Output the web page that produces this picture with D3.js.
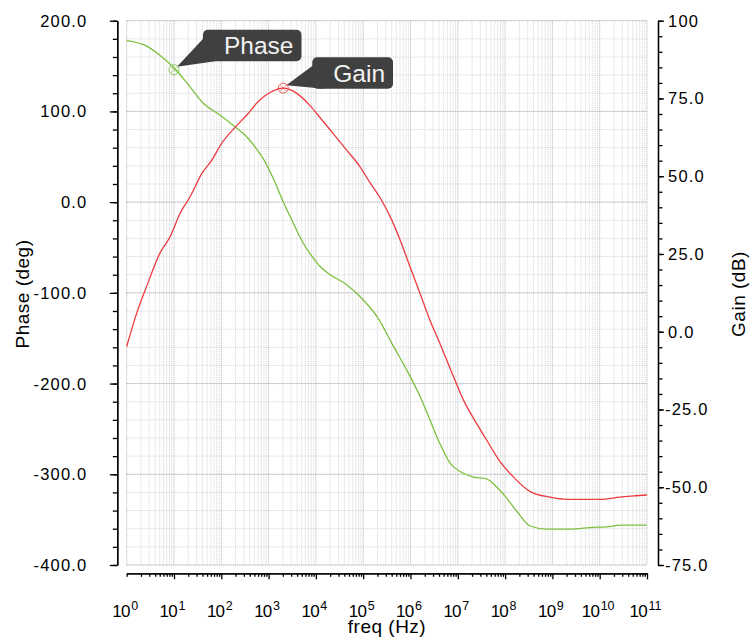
<!DOCTYPE html>
<html>
<head>
<meta charset="utf-8">
<script src="https://cdn.jsdelivr.net/npm/d3@7"></script>
<style>
  body { margin: 0; background: #fff; }
  text { font-family: "Liberation Sans", Arial, sans-serif; }
</style>
</head>
<body>
<script>
"use strict";

// log10 of frequency (Hz) of each sampled point
let phaseExp = [0, 0.42, 0.70, 1.04, 1.34, 1.62, 1.97, 2.29, 2.50, 2.71, 2.92, 3.10, 3.31, 3.52, 3.73, 3.95, 4.09, 4.30, 4.65, 4.93,
  5.29, 5.64, 5.92, 6.20, 6.41, 6.62, 6.84, 7.05, 7.33, 7.61, 7.82, 8.03, 8.28, 8.53, 8.88, 9.37, 9.87, 10.15, 10.43, 11];
let phaseDeg = [178, 172, 162, 146, 127, 109, 96, 83, 74, 61, 45, 26, 0.5, -23, -45, -62, -71, -80, -91, -104,
  -126, -159, -185, -214, -240, -266, -288, -297, -303, -305, -314, -326, -343, -357, -360.5, -360.5, -358.5, -358, -356, -356];

let gainExp = [0, 0.21, 0.42, 0.70, 0.92, 1.13, 1.34, 1.59, 1.80, 2.01, 2.29, 2.54, 2.78, 3.03, 3.31, 3.59, 3.88, 4.09, 4.37, 4.65,
  4.93, 5.14, 5.36, 5.57, 5.78, 5.99, 6.20, 6.41, 6.62, 6.91, 7.12, 7.33, 7.61, 7.89, 8.17, 8.53, 8.95, 9.30, 10.01, 10.43, 10.71, 11];
let gainDb = [-4.8, 5.9, 14.5, 25.2, 30.6, 38.1, 43.4, 50.9, 55.2, 60.6, 65.7, 69.7, 74.0, 76.9, 78.3, 76.7, 72.6, 68.8, 63.6, 58.4,
  53.1, 48.0, 43.0, 37.0, 29.5, 20.9, 12.4, 3.8, -3.7, -14.5, -22.0, -27.8, -34.8, -41.7, -46.6, -51.4, -53.2, -53.9, -53.9, -53.2, -52.8, -52.5];

let phaseTicks = [200, 100, 0, -100, -200, -300, -400];
let phaseTickLabels = ["200.0", "100.0", "0.0", "-100.0", "-200.0", "-300.0", "-400.0"];
let gainTicks = [100, 75, 50, 25, 0, -25, -50, -75];
let gainTickLabels = ["100", "75.0", "50.0", "25.0", "0.0", "-25.0", "-50.0", "-75.0"];
let decadeExp = [0, 1, 2, 3, 4, 5, 6, 7, 8, 9, 10, 11];

// marker callouts
let markerNames = ["Phase", "Gain"];
let markerExp = [1, 3.31];
let markerValue = [146, 78.3];

let width = 750;
let height = 640;
let x0 = 126.7, x1 = 647;
let yTop = 20.7, yBot = 565;

let svg = d3.select("body").append("svg").attr("width", width).attr("height", height);

let x = d3.scaleLog().domain([1, 1e11]).range([x0, x1]);
let yPhase = d3.scaleLinear().domain([-400, 200]).range([yBot, yTop]);
let yGain = d3.scaleLinear().domain([-75, 100]).range([yBot, yTop]);

let red = "#ec3b3f";
let green = "#7cbf3f";

// grid
let grid = svg.append("g");
let minorFreq = [];
for (let d = 0; d < 11; d++) {
  for (let k = 2; k <= 9; k++) minorFreq.push(k * Math.pow(10, d));
}
grid.selectAll(".vminor").data(minorFreq).enter().append("line")
  .attr("x1", d => x(d)).attr("x2", d => x(d))
  .attr("y1", yTop).attr("y2", yBot)
  .attr("stroke", "#d3d3d3").attr("stroke-dasharray", "1,1");
grid.selectAll(".hminor").data(d3.range(-400, 201, 20)).enter().append("line")
  .attr("x1", x0).attr("x2", x1)
  .attr("y1", d => yPhase(d)).attr("y2", d => yPhase(d))
  .attr("stroke", "#d3d3d3").attr("stroke-dasharray", "1,1");
grid.selectAll(".vmajor").data(decadeExp).enter().append("line")
  .attr("x1", d => x(Math.pow(10, d))).attr("x2", d => x(Math.pow(10, d)))
  .attr("y1", yTop).attr("y2", yBot)
  .attr("stroke", "#b0b0b0").attr("stroke-dasharray", "1,1");
grid.selectAll(".hmajor").data(phaseTicks).enter().append("line")
  .attr("x1", x0).attr("x2", x1)
  .attr("y1", d => yPhase(d)).attr("y2", d => yPhase(d))
  .attr("stroke", "#b0b0b0").attr("stroke-dasharray", "1,1");

// axes
function styleAxis(g) {
  g.selectAll("path").attr("stroke", "#000").attr("stroke-width", 1.3);
  g.selectAll("line").attr("stroke", "#000").attr("stroke-width", 1.3);
  g.selectAll("text").remove();
}

let leftX = 117.3;
svg.append("g").attr("transform", `translate(${leftX},0)`)
  .call(d3.axisLeft(yPhase).tickValues(d3.range(-400, 201, 20)).tickSize(4.5).tickSizeOuter(0)).call(styleAxis);
svg.append("g").attr("transform", `translate(${leftX},0)`)
  .call(d3.axisLeft(yPhase).tickValues(phaseTicks).tickSize(7.5).tickSizeOuter(0)).call(styleAxis);

let rightX = 658;
svg.append("g").attr("transform", `translate(${rightX},0)`)
  .call(d3.axisRight(yGain).tickValues(d3.range(-75, 101, 5)).tickSize(4.5).tickSizeOuter(0)).call(styleAxis);
svg.append("g").attr("transform", `translate(${rightX},0)`)
  .call(d3.axisRight(yGain).tickValues(gainTicks).tickSize(6).tickSizeOuter(0)).call(styleAxis);

let bottomY = 573.3;
svg.append("g").attr("transform", `translate(0,${bottomY})`)
  .call(d3.axisBottom(x).tickValues(minorFreq.concat([1])).tickSize(3.5).tickSizeOuter(0)).call(styleAxis);
svg.append("g").attr("transform", `translate(0,${bottomY})`)
  .call(d3.axisBottom(x).tickValues(decadeExp.slice(1).map(d => Math.pow(10, d))).tickSize(6).tickSizeOuter(0)).call(styleAxis);

// tick labels
svg.append("g").selectAll("text").data(phaseTicks).enter().append("text")
  .attr("x", 87.5).attr("y", d => yPhase(d) + 6)
  .attr("text-anchor", "end")
  .style("font-size", "16.5px").style("letter-spacing", "1.2px")
  .text((d, i) => phaseTickLabels[i]);

svg.append("g").selectAll("text").data(gainTicks).enter().append("text")
  .attr("x", d => d < 0 ? 665 : 668).attr("y", d => yGain(d) + 6)
  .style("font-size", "16.5px").style("letter-spacing", "1.2px")
  .text((d, i) => gainTickLabels[i]);

let xl = svg.append("g").selectAll("text").data(decadeExp).enter().append("text")
  .attr("x", d => x(Math.pow(10, d)) - 1.5).attr("y", 617)
  .attr("text-anchor", "middle")
  .style("font-size", "17px");
xl.append("tspan").style("letter-spacing", "-0.8px").text("10");
xl.append("tspan").attr("dx", 1.5).attr("dy", -7.5).style("font-size", "12.5px").text(d => d);

// axis titles
svg.append("text")
  .attr("transform", "translate(28.5,294) rotate(-90)")
  .attr("text-anchor", "middle")
  .style("font-size", "19px").style("letter-spacing", "0.5px")
  .text("Phase (deg)");
svg.append("text")
  .attr("transform", "translate(745,294) rotate(-90)")
  .attr("text-anchor", "middle")
  .style("font-size", "19px").style("letter-spacing", "0.5px")
  .text("Gain (dB)");
svg.append("text")
  .attr("x", 387).attr("y", 633)
  .attr("text-anchor", "middle")
  .style("font-size", "19px").style("letter-spacing", "0.5px")
  .text("freq (Hz)");

// curves
let phaseLine = d3.line()
  .x((d, i) => x(Math.pow(10, phaseExp[i])))
  .y(d => yPhase(d))
  .curve(d3.curveMonotoneX);
let gainLine = d3.line()
  .x((d, i) => x(Math.pow(10, gainExp[i])))
  .y(d => yGain(d))
  .curve(d3.curveMonotoneX);

svg.append("path").datum(phaseDeg).attr("d", phaseLine)
  .attr("fill", "none").attr("stroke", green).attr("stroke-width", 1.3);
svg.append("path").datum(gainDb).attr("d", gainLine)
  .attr("fill", "none").attr("stroke", red).attr("stroke-width", 1.3);

// markers + callouts
let boxDy = [-40, -31];
markerNames.forEach(function (name, i) {
  let mx = x(Math.pow(10, markerExp[i]));
  let my = i === 0 ? yPhase(markerValue[i]) : yGain(markerValue[i]);
  let col = i === 0 ? green : red;
  let g = svg.append("g");

  let bx = mx + 29;
  let by = my + boxDy[i];
  let bh = 31.5;
  let label = g.append("text")
    .attr("x", bx + 21).attr("y", by + bh - 7)
    .attr("fill", "#f2f2f2")
    .style("font-size", "24.5px")
    .text(name);
  let tw = label.node().getComputedTextLength();
  g.insert("rect", "text")
    .attr("x", bx).attr("y", by)
    .attr("width", tw + 29).attr("height", bh)
    .attr("rx", 5)
    .attr("fill", "#404040");
  g.insert("polygon", "text")
    .attr("points", [[mx + 3, my - 3], [bx + 1, by + 8], [bx + 12, by + bh]].map(p => p.join(",")).join(" "))
    .attr("fill", "#404040");

  g.append("circle").attr("cx", mx).attr("cy", my).attr("r", 5)
    .attr("fill", "none").attr("stroke", col).attr("stroke-opacity", 0.8);
  let s = 3.2;
  g.append("path")
    .attr("d", `M${mx - s},${my - s}L${mx + s},${my + s}M${mx - s},${my + s}L${mx + s},${my - s}`)
    .attr("stroke", col).attr("stroke-opacity", 0.6);
});
</script>
</body>
</html>
